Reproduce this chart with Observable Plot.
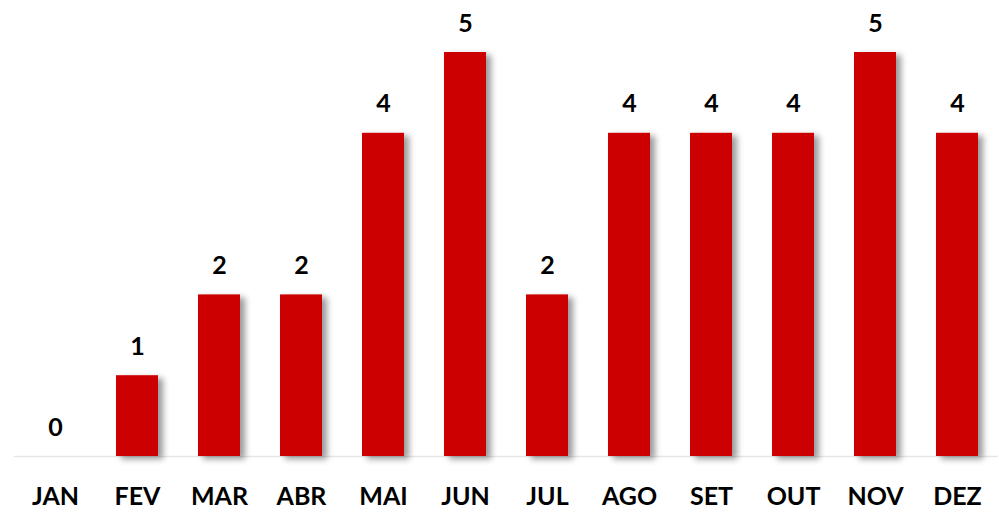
<!DOCTYPE html>
<html>
<head>
<meta charset="utf-8">
<script src="https://cdn.jsdelivr.net/npm/d3@7"></script>
<script src="https://cdn.jsdelivr.net/npm/@observablehq/plot@0.6"></script>
<style>
  html, body { margin: 0; padding: 0; background: #fff; }
  #chart { width: 999px; height: 513px; }
</style>
</head>
<body>
<div id="chart"></div>
<script>
const months = ["JAN","FEV","MAR","ABR","MAI","JUN","JUL","AGO","SET","OUT","NOV","DEZ"];
const values = [0, 1, 2, 2, 4, 5, 2, 4, 4, 4, 5, 4];

const data = months.map((m, i) => ({month: m, value: values[i]}));

const chart = Plot.plot({
  width: 999,
  height: 513,
  marginLeft: 14,
  marginRight: 1,
  marginTop: 52,
  marginBottom: 57,
  style: {fontFamily: "Lato, 'Open Sans', sans-serif", background: "#fff"},
  x: {domain: months, paddingInner: 0.49, paddingOuter: 0.245, label: null},
  y: {domain: [0, 5], axis: null},
  marks: [
    Plot.ruleY([0], {stroke: "#e6e6e6", strokeWidth: 1.5}),
    Plot.barY(data, {x: "month", y: "value", fill: "#cc0000", className: "bars"}),
    Plot.text(data, {x: "month", y: "value", text: d => String(d.value), dy: -29, lineAnchor: "middle",
      fontSize: 25, fontWeight: "bold", fill: "#000"}),
    Plot.axisX({tickSize: 0, tickPadding: 31, fontSize: 25, fontWeight: "bold", color: "#000", label: null})
  ]
});

// drop shadow on bars
const svg = d3.select(chart);
const defs = svg.insert("defs", ":first-child");
const f = defs.append("filter").attr("id", "shadow").attr("x", "-20%").attr("y", "-10%").attr("width", "160%").attr("height", "130%");
f.append("feDropShadow").attr("dx", 5).attr("dy", 3).attr("stdDeviation", 3).attr("flood-color", "#000").attr("flood-opacity", 0.4);
svg.selectAll("g.bars rect, .bars rect").attr("filter", "url(#shadow)");

document.getElementById("chart").appendChild(chart);
</script>
</body>
</html>
